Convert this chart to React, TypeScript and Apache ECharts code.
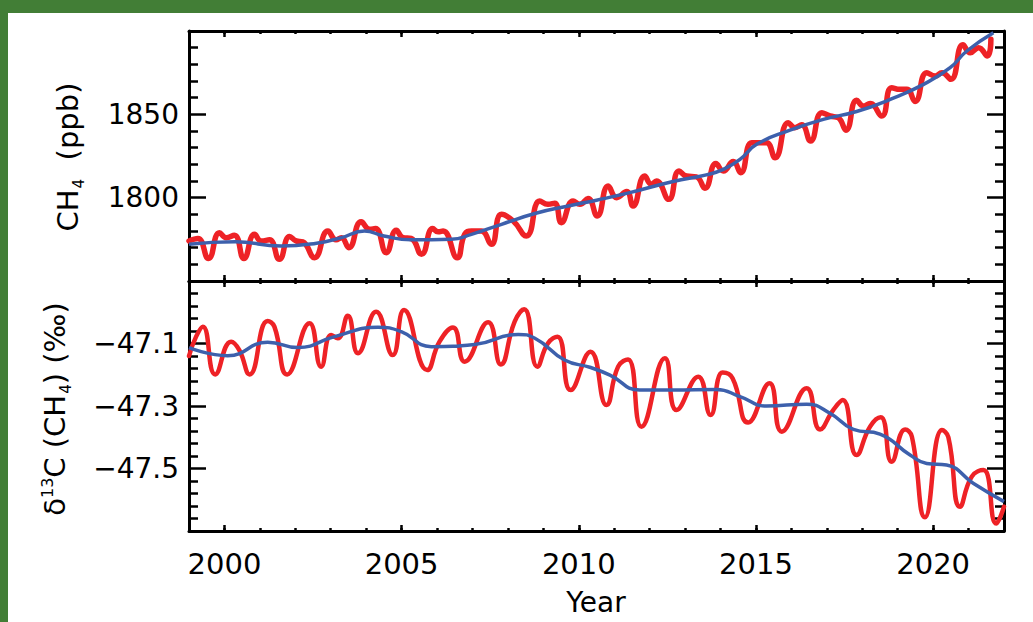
import React, { useEffect, useRef } from "react";
import * as echarts from "echarts";

// ---- CH4 (ppb): red seasonal record ----
const ch4Years = [
  1999.0, 1999.25, 1999.55, 1999.86, 2000.05, 2000.28, 2000.55, 2000.85, 2001.04, 2001.27,
  2001.55, 2001.84, 2002.03, 2002.21, 2002.54, 2002.92, 2003.15, 2003.3, 2003.51, 2003.86,
  2004.1, 2004.26, 2004.57, 2004.85, 2005.04, 2005.27, 2005.56, 2005.88, 2006.03, 2006.17,
  2006.57, 2006.78, 2006.97, 2007.25, 2007.53, 2007.82, 2008.15, 2008.52, 2008.9, 2009.13,
  2009.32, 2009.51, 2009.84, 2010.03, 2010.26, 2010.52, 2010.83, 2011.07, 2011.35, 2011.53,
  2011.86, 2012.05, 2012.19, 2012.54, 2012.83, 2013.04, 2013.32, 2013.56, 2013.87, 2014.08,
  2014.36, 2014.57, 2014.88, 2015.11, 2015.3, 2015.54, 2015.91, 2016.1, 2016.29, 2016.54,
  2016.86, 2017.09, 2017.32, 2017.54, 2017.84, 2018.03, 2018.22, 2018.55, 2018.83, 2019.07,
  2019.26, 2019.49, 2019.82, 2020.06, 2020.25, 2020.5, 2020.84, 2021.05, 2021.28, 2021.53,
  2021.63,
];
const ch4Values = [
  1774, 1775.5, 1763.5, 1779, 1776, 1777.5, 1763.5, 1778, 1774, 1774.7,
  1763, 1776.7, 1774, 1773.5, 1764, 1780, 1774.7, 1776, 1770, 1785.5,
  1781, 1781.5, 1767, 1780.5, 1776, 1775.5, 1766, 1781.5, 1779.5, 1780,
  1764, 1778, 1780, 1780, 1772, 1790, 1786, 1777, 1798, 1796,
  1796.7, 1785, 1798, 1796, 1799.5, 1789, 1807, 1800, 1803.7, 1795,
  1813, 1808, 1810, 1799, 1816, 1813, 1812.5, 1805.7, 1820.5, 1816,
  1821.7, 1815, 1833, 1833, 1833, 1824, 1845, 1842, 1843.7, 1834,
  1851, 1849, 1848, 1840.5, 1858.5, 1855, 1856.5, 1849, 1866, 1865,
  1865, 1857.7, 1875, 1873, 1875, 1871, 1891.7, 1887, 1890, 1885,
  1895,
];

// ---- CH4 (ppb): blue trend ----
const ch4TrendYears = [
  1999.0, 2000.3, 2001.6, 2002.6, 2003.3, 2003.95, 2004.5, 2005.27, 2006.4, 2006.97,
  2007.82, 2008.76, 2009.7, 2010.5, 2011.44, 2012.66, 2013.6, 2014.08, 2014.55, 2015.02,
  2015.96, 2016.9, 2017.84, 2018.79, 2019.73, 2020.48, 2020.95, 2021.7,
];
const ch4TrendValues = [
  1772, 1773.5, 1771, 1772.7, 1776, 1780, 1777, 1774.7, 1775, 1778,
  1784, 1790.5, 1795, 1798.5, 1803, 1809.7, 1813.7, 1817, 1823, 1832,
  1840.5, 1847, 1851.7, 1859, 1868, 1878, 1888, 1899,
];

// ---- d13C-CH4 (per mil): red seasonal record ----
const d13cYears = [
  1999.0, 1999.2, 1999.39, 1999.74, 2000.19, 2000.42, 2000.71, 2001.22, 2001.41, 2001.77,
  2002.4, 2002.73, 2003.01, 2003.2, 2003.48, 2003.77, 2004.28, 2004.75, 2005.07, 2005.72,
  2006.07, 2006.45, 2006.78, 2007.44, 2007.8, 2008.19, 2008.46, 2008.83, 2009.13, 2009.4,
  2009.77, 2010.33, 2010.78, 2011.11, 2011.39, 2011.77, 2012.43, 2012.76, 2013.37, 2013.72,
  2014.06, 2014.34, 2014.78, 2015.38, 2015.73, 2016.43, 2016.81, 2017.18, 2017.45, 2017.84,
  2018.22, 2018.52, 2018.83, 2019.21, 2019.4, 2019.77, 2020.25, 2020.43, 2020.76, 2021.09,
  2021.42, 2021.78, 2022.0,
];
const d13cValues = [
  -47.14, -47.078, -47.046, -47.199, -47.094, -47.121, -47.199, -47.028, -47.046, -47.199,
  -47.035, -47.174, -47.073, -47.083, -47.011, -47.131, -46.998, -47.137, -46.993, -47.185,
  -47.094, -47.049, -47.158, -47.032, -47.167, -47.03, -46.99, -47.174, -47.099, -47.078,
  -47.249, -47.126, -47.297, -47.174, -47.151, -47.366, -47.147, -47.313, -47.206, -47.329,
  -47.193, -47.211, -47.353, -47.227, -47.382, -47.243, -47.375, -47.313, -47.281, -47.457,
  -47.366, -47.336, -47.478, -47.375, -47.398, -47.656, -47.377, -47.4, -47.622, -47.526,
  -47.505, -47.676, -47.622,
];

// ---- d13C-CH4 (per mil): blue trend ----
const d13cTrendYears = [
  1999.0, 2000.09, 2001.22, 2002.07, 2003.11, 2004.33, 2004.99, 2005.84, 2007.06, 2008.29,
  2008.76, 2009.6, 2010.31, 2010.88, 2011.72, 2012.66, 2013.89, 2014.55, 2015.3, 2016.43,
  2017.09, 2017.75, 2018.5, 2019.35, 2019.82, 2020.38, 2021.13, 2022.0,
];
const d13cTrendValues = [
  -47.113, -47.139, -47.096, -47.113, -47.078, -47.048, -47.062, -47.11, -47.103, -47.071,
  -47.083, -47.153, -47.176, -47.201, -47.249, -47.249, -47.247, -47.27, -47.3, -47.294,
  -47.323, -47.375, -47.39, -47.457, -47.484, -47.489, -47.547, -47.606,
];

const yearRange = [1999, 2022];
const ch4Range = [1750, 1900];
const ch4Step = 50;
const d13cRange = [-47.7, -46.9];
const d13cStep = 0.2;

const zip = (xs: number[], ys: number[]) => xs.map((x, i) => [x, ys[i]]);

export default function App() {
  const ref = useRef<HTMLDivElement>(null);

  useEffect(() => {
    if (!ref.current) return;
    const chart = echarts.init(ref.current, null, { renderer: "svg" });
    const FONT = "DejaVu Sans";
    const BLACK = "#000";
    const RED = "#ee2226";
    const BLUE = "#3d60ac";
    const GREEN = "#427e36";

    const xMajor = (gridIndex: number, position: string, showLabel: boolean) => ({
      type: "value",
      gridIndex,
      position,
      min: yearRange[0],
      max: yearRange[1],
      splitNumber: 5,
      axisLine: { show: true, onZero: false, lineStyle: { color: BLACK, width: 3 } },
      axisTick: { show: true, inside: true, length: 6, lineStyle: { color: BLACK, width: 2.5 } },
      axisLabel: {
        show: showLabel,
        margin: 18,
        fontFamily: FONT,
        fontSize: 29,
        color: BLACK,
        showMinLabel: false,
        showMaxLabel: false,
        formatter: (v: number) => String(Math.round(v)),
      },
      splitLine: { show: false },
    });
    const xMinor = (gridIndex: number, position: string) => ({
      type: "value",
      gridIndex,
      position,
      min: yearRange[0],
      max: yearRange[1],
      interval: 1,
      axisLine: { show: false, onZero: false },
      axisTick: { show: true, inside: true, length: 3, lineStyle: { color: BLACK, width: 2.5 } },
      axisLabel: { show: false },
      splitLine: { show: false },
    });
    const yAx = (
      gridIndex: number,
      position: string,
      range: number[],
      step: number,
      showLabel: boolean,
      fmt: (v: number) => string
    ) => ({
      type: "value",
      gridIndex,
      position,
      min: range[0],
      max: range[1],
      interval: step,
      axisLine: { show: true, onZero: false, lineStyle: { color: BLACK, width: 3 } },
      axisTick: { show: true, inside: true, length: 17, lineStyle: { color: BLACK, width: 2.5 } },
      minorTick: { show: true, splitNumber: 5, length: 9, lineStyle: { color: BLACK, width: 2.5 } },
      axisLabel: {
        show: showLabel,
        margin: 10,
        fontFamily: FONT,
        fontSize: 28,
        color: BLACK,
        showMinLabel: false,
        showMaxLabel: false,
        formatter: fmt,
      },
      splitLine: { show: false },
      minorSplitLine: { show: false },
    });

    const ch4Fmt = (v: number) => String(Math.round(v));
    const d13Fmt = (v: number) => v.toFixed(1).replace("-", "\u2212");

    const option: any = {
      animation: false,
      backgroundColor: "#ffffff",
      grid: [
        { left: 189, top: 31, width: 815, height: 250 },
        { left: 189, top: 281, width: 815, height: 250 },
      ],
      xAxis: [
        xMajor(0, "bottom", false),
        xMinor(0, "bottom"),
        xMajor(0, "top", false),
        xMinor(0, "top"),
        xMajor(1, "bottom", true),
        xMinor(1, "bottom"),
        xMajor(1, "top", false),
        xMinor(1, "top"),
      ],
      yAxis: [
        yAx(0, "left", ch4Range, ch4Step, true, ch4Fmt),
        yAx(0, "right", ch4Range, ch4Step, false, ch4Fmt),
        yAx(1, "left", d13cRange, d13cStep, true, d13Fmt),
        yAx(1, "right", d13cRange, d13cStep, false, d13Fmt),
      ],
      series: [
        {
          type: "line",
          xAxisIndex: 0,
          yAxisIndex: 0,
          data: zip(ch4Years, ch4Values),
          smooth: 0.5,
          symbol: "none",
          lineStyle: { color: RED, width: 5.5, cap: "round", join: "round" },
          z: 2,
        },
        {
          type: "line",
          xAxisIndex: 0,
          yAxisIndex: 0,
          data: zip(ch4TrendYears, ch4TrendValues),
          smooth: 0.5,
          symbol: "none",
          lineStyle: { color: BLUE, width: 3.5 },
          z: 3,
        },
        {
          type: "line",
          xAxisIndex: 4,
          yAxisIndex: 2,
          data: zip(d13cYears, d13cValues),
          smooth: 0.5,
          symbol: "none",
          lineStyle: { color: RED, width: 4.5, cap: "round", join: "round" },
          z: 2,
        },
        {
          type: "line",
          xAxisIndex: 4,
          yAxisIndex: 2,
          data: zip(d13cTrendYears, d13cTrendValues),
          smooth: 0.5,
          symbol: "none",
          lineStyle: { color: BLUE, width: 3.5 },
          z: 3,
        },
      ],
      graphic: [
        { type: "rect", left: 0, top: 0, shape: { width: 1033, height: 13 }, style: { fill: GREEN }, silent: true },
        { type: "rect", left: 0, top: 0, shape: { width: 8, height: 622 }, style: { fill: GREEN }, silent: true },
        {
          type: "text",
          x: 68,
          y: 157,
          rotation: Math.PI / 2,
          style: {
            text: "CH{s|4}  (ppb)",
            fontFamily: FONT,
            fontSize: 29,
            fill: BLACK,
            align: "center",
            verticalAlign: "middle",
            rich: {
              s: { fontFamily: FONT, fontSize: 15, fill: BLACK, padding: [22, 0, 0, 1] },
            },
          },
        },
        {
          type: "text",
          x: 55,
          y: 409,
          rotation: Math.PI / 2,
          style: {
            text: "\u03b4{u|13}C (CH{s|4}) (\u2030)",
            fontFamily: FONT,
            fontSize: 29,
            fill: BLACK,
            align: "center",
            verticalAlign: "middle",
            rich: {
              s: { fontFamily: FONT, fontSize: 15, fill: BLACK, padding: [22, 0, 0, 1] },
              u: { fontFamily: FONT, fontSize: 16, fill: BLACK, padding: [0, 0, 16, 0] },
            },
          },
        },
        {
          type: "text",
          x: 596,
          y: 602,
          style: {
            text: "Year",
            fontFamily: FONT,
            fontSize: 28,
            fill: BLACK,
            align: "center",
            verticalAlign: "middle",
          },
        },
      ],
    };

    chart.setOption(option);
    return () => chart.dispose();
  }, []);

  return (
    <div
      ref={ref}
      style={{ position: "absolute", left: 0, top: 0, width: 1033, height: 622, background: "#fff" }}
    />
  );
}
